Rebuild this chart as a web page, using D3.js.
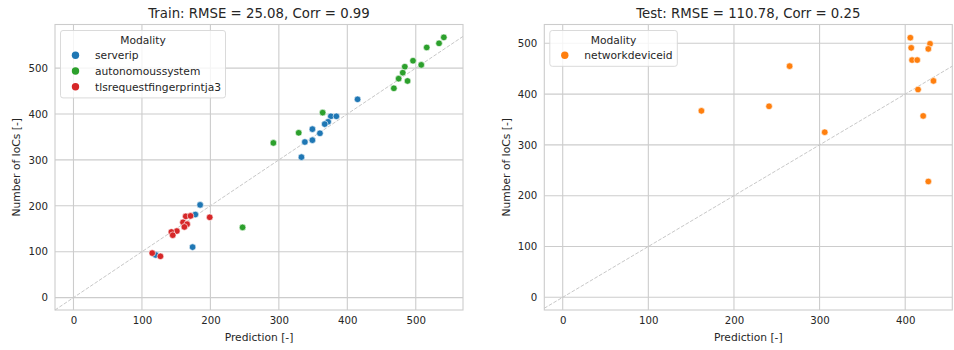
<!DOCTYPE html>
<html>
<head>
<meta charset="utf-8">
<script src="https://cdn.jsdelivr.net/npm/d3@7"></script>
<style>
  body { margin: 0; background: #fff; }
  svg { font-family: "DejaVu Sans", sans-serif; }
</style>
</head>
<body>
<div id="chart"></div>
<script>
// train panel: prediction / actual number of IoCs
const serveripPred   = [415, 376, 384, 372, 367, 349, 360, 349, 338, 333, 185, 178, 174, 120];
const serveripTrue   = [432, 395, 395, 383, 378, 367, 358, 343, 339, 306, 202, 181, 110, 93];
const autonomousPred = [541, 534, 516, 496, 508, 484, 481, 475, 488, 468, 364, 329, 292, 247];
const autonomousTrue = [567, 554, 545, 516, 507, 503, 490, 477, 472, 456, 403, 359, 337, 153];
const tlsPred        = [199, 164, 171, 160, 166, 162, 151, 143, 145, 115, 127];
const tlsTrue        = [175, 177, 178, 164, 160, 154, 145, 143, 136, 97, 90];

// test panel
const networkPred = [406, 407, 408, 414, 429, 427, 433, 415, 421, 265, 162, 241, 306, 427];
const networkTrue = [511, 491, 467, 467, 499, 489, 426, 409, 357, 455, 367, 376, 325, 228];

const trainTicks = [0, 100, 200, 300, 400, 500];
const testXTicks = [0, 100, 200, 300, 400];
const testYTicks = [0, 100, 200, 300, 400, 500];

const width = 954, height = 350;
const gridColor = "#cccccc", textColor = "#262626";

const svg = d3.select("#chart").append("svg")
  .attr("width", width)
  .attr("height", height);

function makePanel(opt) {
  const x = d3.scaleLinear().domain(opt.xDomain).range([opt.left, opt.right]);
  const y = d3.scaleLinear().domain(opt.yDomain).range([opt.bottom, opt.top]);
  const g = svg.append("g");

  // grid
  g.selectAll(".gx").data(opt.xTicks).enter().append("line")
    .attr("x1", d => x(d)).attr("x2", d => x(d))
    .attr("y1", opt.top).attr("y2", opt.bottom)
    .attr("stroke", gridColor).attr("stroke-width", 1.1);
  g.selectAll(".gy").data(opt.yTicks).enter().append("line")
    .attr("x1", opt.left).attr("x2", opt.right)
    .attr("y1", d => y(d)).attr("y2", d => y(d))
    .attr("stroke", gridColor).attr("stroke-width", 1.1);

  // frame
  g.append("rect")
    .attr("x", opt.left).attr("y", opt.top)
    .attr("width", opt.right - opt.left).attr("height", opt.bottom - opt.top)
    .attr("fill", "none").attr("stroke", gridColor).attr("stroke-width", 1.1);

  // axes (tick labels only, seaborn whitegrid style)
  const xAxis = g.append("g")
    .attr("transform", "translate(0," + opt.bottom + ")")
    .call(d3.axisBottom(x).tickValues(opt.xTicks).tickSize(0).tickPadding(7));
  const yAxis = g.append("g")
    .attr("transform", "translate(" + opt.left + ",0)")
    .call(d3.axisLeft(y).tickValues(opt.yTicks).tickSize(0).tickPadding(7));
  [xAxis, yAxis].forEach(a => {
    a.select(".domain").remove();
    a.selectAll("text")
      .attr("font-family", "DejaVu Sans")
      .attr("font-size", "10.2px")
      .attr("fill", textColor);
  });

  // identity line
  const lo = Math.max(opt.xDomain[0], opt.yDomain[0]);
  const hi = Math.min(opt.xDomain[1], opt.yDomain[1]);
  g.append("line")
    .attr("x1", x(lo)).attr("y1", y(lo))
    .attr("x2", x(hi)).attr("y2", y(hi))
    .attr("stroke", "#c8c8c8").attr("stroke-width", 1)
    .attr("stroke-dasharray", "3.7,1.6");

  // points
  opt.series.forEach(s => {
    g.selectAll(null).data(d3.zip(s.pred, s.actual)).enter().append("circle")
      .attr("cx", d => x(d[0]))
      .attr("cy", d => y(d[1]))
      .attr("r", 3.3)
      .attr("fill", s.color)
      .attr("stroke", "#fff")
      .attr("stroke-width", 0.6);
  });

  // labels
  g.append("text")
    .attr("x", (opt.left + opt.right) / 2).attr("y", opt.top - 7)
    .attr("text-anchor", "middle")
    .attr("font-size", "13.3px").attr("fill", textColor)
    .text(opt.title);
  g.append("text")
    .attr("x", (opt.left + opt.right) / 2).attr("y", 341)
    .attr("text-anchor", "middle")
    .attr("font-size", "10.7px").attr("fill", textColor)
    .text("Prediction [-]");
  g.append("text")
    .attr("transform", "translate(" + opt.ylabelX + "," + ((opt.top + opt.bottom) / 2) + ") rotate(-90)")
    .attr("text-anchor", "middle")
    .attr("font-size", "10.7px").attr("fill", textColor)
    .text("Number of IoCs [-]");

  // legend
  const lg = g.append("g");
  const lx = opt.left + 5.5, ly = opt.top + 6;
  lg.append("rect")
    .attr("x", lx).attr("y", ly)
    .attr("width", opt.legendWidth).attr("height", 18 + opt.series.length * 15.8 + 2)
    .attr("rx", 2.5)
    .attr("fill", "#fff").attr("fill-opacity", 0.8)
    .attr("stroke", "#d6d6d6").attr("stroke-width", 0.9);
  lg.append("text")
    .attr("x", lx + opt.legendWidth / 2).attr("y", ly + 13)
    .attr("text-anchor", "middle")
    .attr("font-size", "10.7px").attr("fill", textColor)
    .text("Modality");
  opt.series.forEach((s, i) => {
    const cy = ly + 24.7 + i * 15.8;
    lg.append("circle")
      .attr("cx", lx + 15).attr("cy", cy).attr("r", 3.7)
      .attr("fill", s.color);
    lg.append("text")
      .attr("x", lx + 34.5).attr("y", cy + 3.8)
      .attr("font-size", "10.7px").attr("fill", textColor)
      .text(s.name);
  });
}

makePanel({
  left: 55, right: 463, top: 24.5, bottom: 310,
  xDomain: [-27, 569], yDomain: [-27, 595],
  xTicks: trainTicks, yTicks: trainTicks,
  ylabelX: 20,
  legendWidth: 165,
  title: "Train: RMSE = 25.08, Corr = 0.99",
  series: [
    {name: "serverip", color: "#1f77b4", pred: serveripPred, actual: serveripTrue},
    {name: "autonomoussystem", color: "#2ca02c", pred: autonomousPred, actual: autonomousTrue},
    {name: "tlsrequestfingerprintja3", color: "#d62728", pred: tlsPred, actual: tlsTrue}
  ]
});

makePanel({
  left: 544.3, right: 952.3, top: 24.5, bottom: 310,
  xDomain: [-21.5, 455], yDomain: [-25, 537],
  xTicks: testXTicks, yTicks: testYTicks,
  ylabelX: 510,
  legendWidth: 127.5,
  title: "Test: RMSE = 110.78, Corr = 0.25",
  series: [
    {name: "networkdeviceid", color: "#ff7f0e", pred: networkPred, actual: networkTrue}
  ]
});
</script>
</body>
</html>
